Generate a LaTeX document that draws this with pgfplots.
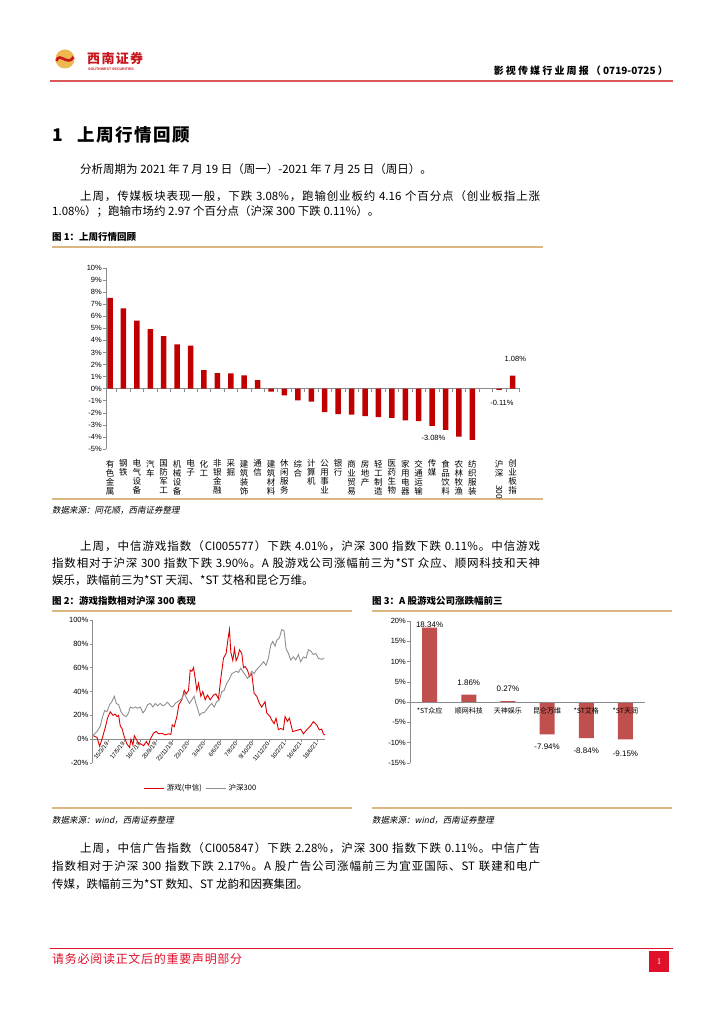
\documentclass[border=0pt]{standalone}
\usepackage{pgfplots}
\pgfplotsset{compat=1.18}
\usepackage{fontspec}
\setmainfont{Noto Sans CJK SC}
\newfontfamily\lat{Liberation Sans}
\newfontfamily\serif{Liberation Serif}
\newfontfamily\cjkit{Noto Sans CJK SC}[FakeSlant=0.2]

% stretchable glue around CJK characters, so that full lines can be justified
\XeTeXinterchartokenstate=1
\newXeTeXintercharclass\cjkcls
\newcount\cc
\cc="4E00 \loop \XeTeXcharclass\cc=\cjkcls \advance\cc by 1 \ifnum\cc<"A000 \repeat
\cc="3000 \loop \XeTeXcharclass\cc=\cjkcls \advance\cc by 1 \ifnum\cc<"3040 \repeat
\cc="FF00 \loop \XeTeXcharclass\cc=\cjkcls \advance\cc by 1 \ifnum\cc<"FFF0 \repeat
\XeTeXinterchartoks\cjkcls\cjkcls={\hskip0pt plus 1pt\relax}
\XeTeXinterchartoks\cjkcls 0={\hskip0pt plus 1pt\relax}
\XeTeXinterchartoks 0\cjkcls={\hskip0pt plus 1pt\relax}

\definecolor{barred}{HTML}{C00000}
\definecolor{barthree}{HTML}{C0504D}
\definecolor{tanline}{HTML}{D9B77E}
\definecolor{hdrred}{HTML}{D9595B}
\definecolor{ftred}{HTML}{E0102A}
\definecolor{logored}{HTML}{C8161D}
\definecolor{logogold}{HTML}{EDB850}
\definecolor{gameline}{HTML}{DD0000}
\definecolor{hsline}{HTML}{8F8F8F}
\definecolor{axgray}{HTML}{8C8C8C}

\newcommand\fs[1]{\fontsize{#1}{#1}\selectfont}
% full (justified) body line
\newcommand\fline[3]{\node[anchor=west,inner sep=0,font=\fs{11.5}] at (#1) {\makebox[#2pt][s]{#3}};}
% last line of a paragraph
\newcommand\lline[2]{\node[anchor=west,inner sep=0,font=\fs{11.5}] at (#1) {#2};}

\begin{document}
\begin{tikzpicture}[x=1pt,y=1pt]
\fill[white] (0,0) rectangle (724,-1024);

% ---- header
\fill[logogold] (65,-59) circle (9.5);
\draw[logored, line width=2.6pt] (56.5,-61) .. controls (59,-51) and (68,-67) .. (73.5,-57);
\node[anchor=west,inner sep=0,text=logored,font=\bfseries\fs{13}] at (87,-58) {\makebox[56pt][s]{西南证券}};
\node[anchor=west,inner sep=0,text=logored,font=\lat\bfseries\fs{3.6}] at (88,-69.5) {SOUTHWEST SECURITIES};
\node[anchor=east,inner sep=0,font=\bfseries\fs{10}] at (668,-70.5) {\makebox[174pt][s]{影视传媒行业周报（0719-0725）}};
\draw[hdrred, line width=1.6pt] (50,-81) -- (673,-81);

% ---- section 1 text
\node[anchor=west,inner sep=0,font=\bfseries\fs{17.5}] at (52,-135) {\makebox[138pt][s]{1\ \ 上周行情回顾}};
\lline{80,-169}{分析周期为 2021 年 7 月 19 日（周一）-2021 年 7 月 25 日（周日）。}
\fline{80,-196}{460}{上周，传媒板块表现一般，下跌 3.08\%，跑输创业板约 4.16 个百分点（创业板指上涨}
\lline{52,-212}{1.08\%）；跑输市场约 2.97 个百分点（沪深 300 下跌 0.11\%）。}

% ---- figure 1
\node[anchor=west,inner sep=0,font=\bfseries\fs{9.5}] at (52,-237) {图 1：上周行情回顾};
\draw[tanline, line width=1.5pt] (52,-247) -- (543,-247);
\draw[tanline, line width=1.5pt] (52,-499) -- (543,-499);
\node[anchor=west,inner sep=0,font=\cjkit\fs{8.5}] at (52,-510) {数据来源：同花顺，西南证券整理};

\begin{axis}[at={(106pt,-268pt)}, anchor=north west, scale only axis,
  width=414pt, height=181pt,
  xmin=-0.3, xmax=30.55, ymin=-5, ymax=10,
  axis y line*=left, axis x line*=middle,
  axis line style={axgray, line width=0.6pt},
  ytick={-5,...,10}, minor ytick={-5,...,10},
  yticklabel={\pgfmathprintnumber{\tick}\%},
  /pgf/number format/assume math mode=true,
  xtick={0,...,27,29,30},
  minor xtick={0.5,1.5,...,30.5},
  xticklabels={{有\\色\\金\\属},{钢\\铁},{电\\气\\设\\备},{汽\\车},{国\\防\\军\\工},{机\\械\\设\\备},{电\\子},{化\\工},{非\\银\\金\\融},{采\\掘},{建\\筑\\装\\饰},{通\\信},{建\\筑\\材\\料},{休\\闲\\服\\务},{综\\合},{计\\算\\机},{公\\用\\事\\业},{银\\行},{商\\业\\贸\\易},{房\\地\\产},{轻\\工\\制\\造},{医\\药\\生\\物},{家\\用\\电\\器},{交\\通\\运\\输},{传\\媒},{食\\品\\饮\\料},{农\\林\\牧\\渔},{纺\\织\\服\\装},{沪\\深\\\rotatebox{-90}{300}},{创\\业\\板\\指}},
  tick align=outside, major tick length=0pt, minor tick length=3pt,
  tick style={axgray, line width=0.6pt},
  xticklabel style={font=\fontsize{8.5}{9}\selectfont, align=center, anchor=north, inner sep=0pt, yshift=-71pt},
  yticklabel style={font=\lat\fs{7.5}, inner sep=1pt, xshift=-3pt},
  clip=false]
\addplot[ybar, bar width=5.5pt, fill=barred, draw=none] coordinates {
  (0,7.53) (1,6.66) (2,5.64) (3,4.93) (4,4.36) (5,3.67) (6,3.56) (7,1.53)
  (8,1.29) (9,1.26) (10,1.10) (11,0.71) (12,-0.25) (13,-0.55) (14,-0.96)
  (15,-1.07) (16,-1.95) (17,-2.11) (18,-2.16) (19,-2.27) (20,-2.36)
  (21,-2.41) (22,-2.63) (23,-2.68) (24,-3.08) (25,-3.42) (26,-3.97)
  (27,-4.25) (29,-0.11) (30,1.08)};
\node[font=\lat\fs{7.5}] at (axis cs:30.2,2.49) {1.08\%};
\node[font=\lat\fs{7.5}] at (axis cs:29.2,-1.16) {-0.11\%};
\node[font=\lat\fs{7.5}] at (axis cs:24.1,-4.06) {-3.08\%};
\end{axis}

% ---- section text 2
\fline{80,-546}{460}{上周，中信游戏指数（CI005577）下跌 4.01\%，沪深 300 指数下跌 0.11\%。中信游戏}
\fline{52,-563}{488}{指数相对于沪深 300 指数下跌 3.90\%。A 股游戏公司涨幅前三为*ST 众应、顺网科技和天神}
\lline{52,-580}{娱乐，跌幅前三为*ST 天润、*ST 艾格和昆仑万维。}

% ---- figure 2
\node[anchor=west,inner sep=0,font=\bfseries\fs{9.5}] at (52,-601) {图 2：游戏指数相对沪深 300 表现};
\draw[tanline, line width=1.5pt] (52,-611) -- (352,-611);
\draw[tanline, line width=1.5pt] (52,-808) -- (352,-808);
\node[anchor=west,inner sep=0,font=\cjkit\fs{8.5}] at (52,-820) {数据来源：wind，西南证券整理};

\begin{axis}[at={(92pt,-620pt)}, anchor=north west, scale only axis,
  width=233pt, height=143pt,
  xmin=125, xmax=825, ymin=-20, ymax=100,
  axis y line*=left, axis x line*=middle,
  axis line style={axgray, line width=0.6pt},
  ytick={-20,0,20,40,60,80,100},
  yticklabel={\pgfmathprintnumber{\tick}\%},
  /pgf/number format/assume math mode=true,
  xtick={125,173.3,221.6,269.9,318.2,366.5,414.8,463.1,511.4,559.7,608,656.3,704.6,752.9,801.2},
  xticklabels={2/1/19,15/3/19,17/5/19,16/7/19,20/9/19,22/11/19,23/1/20,3/4/20,6/6/20,7/8/20,9/10/20,11/12/20,10/2/21,16/4/21,18/6/21},
  tick align=outside, major tick length=2.5pt,
  tick style={axgray, line width=0.6pt},
  xticklabel style={font=\lat\fs{6}, rotate=52, anchor=east, inner sep=1pt},
  yticklabel style={font=\lat\fs{7.5}, inner sep=1pt},
  legend style={at={(axis description cs:0.468,-0.175)}, anchor=center, draw=none, fill=none,
    legend columns=2, font=\fs{7.5}, inner sep=0pt,
    /tikz/every even column/.append style={column sep=2pt}},
  legend image code/.code={\draw[#1] (0pt,0pt) -- (20pt,0pt);},
  clip=false]
\addplot[gameline, line width=0.9pt] coordinates {
  (128,3) (140,1.5) (148,-6) (155,0) (165,10) (172,18) (180,23) (188,20)
  (195,21) (200,19) (205,20) (210,11) (215,9) (222,2) (230,-4) (238,-7)
  (242,0) (248,-5) (252,3) (258,0) (265,-4) (272,-4) (280,-5.5) (288,-2)
  (295,-5) (300,0) (310,5) (318,6.5) (325,4.5) (335,5) (345,3.6) (355,4.5)
  (362,4) (366,12) (372,10.5) (380,19) (386,29) (395,33) (402,41) (408,38)
  (415,41) (420,58) (425,57) (430,60) (435,51) (440,41) (445,47) (452,36)
  (458,40) (465,33) (472,37) (480,33) (490,37) (497,38) (505,34) (512,51)
  (520,68) (528,72) (533,83) (538,92) (542,73) (548,66) (553,76) (558,66)
  (563,69) (568,75) (575,72) (580,60) (585,61) (592,58) (598,52.5) (605,55)
  (612,38.5) (620,36) (628,30) (635,27) (645,31.5) (650,22) (660,19) (665,16)
  (672,13) (678,17.6) (685,8) (692,9) (700,8) (705,19) (712,15) (718,17.6)
  (722,13) (728,6.4) (740,7.3) (752,8.4) (760,4.5) (770,7.8) (780,10.6)
  (790,14.8) (800,12) (808,7.8) (815,8.4) (820,4.5) (825,3.6)};
\addlegendentry{游戏(中信)}
\addplot[hsline, line width=0.9pt] coordinates {
  (128,3) (140,6.4) (150,11) (158,20) (163,24) (170,23) (178,29) (185,31.6)
  (192,36) (198,30) (205,29) (212,23) (220,20) (228,19) (235,22) (240,27)
  (248,26) (255,27) (262,26) (270,27) (278,22) (285,24.6) (292,29) (300,30)
  (308,27) (315,30) (322,28) (330,30) (338,28) (345,29) (352,31) (360,28)
  (367,27) (375,30) (385,32) (395,34) (402,38.5) (410,34) (418,30) (425,33)
  (432,36) (437,30) (442,26) (448,20) (455,22) (462,22.3) (470,25) (478,28)
  (485,30) (492,27) (500,31.6) (508,33) (515,40) (522,41) (530,47) (537,50)
  (545,55) (552,56) (558,57) (565,56) (572,59.5) (578,57) (585,54) (592,51)
  (598,53) (605,57) (612,55) (618,58) (625,60) (632,62) (640,65) (648,62)
  (655,68) (662,79) (668,82) (675,78) (680,83) (688,85) (695,92) (702,91)
  (708,76) (715,72) (722,66.5) (730,69) (737,66.5) (745,71) (752,65) (760,69)
  (768,68) (775,75) (782,74) (790,71) (797,72) (805,68) (815,67) (822,68)};
\addlegendentry{沪深300}
\end{axis}

% ---- figure 3
\node[anchor=west,inner sep=0,font=\bfseries\fs{9.5}] at (372,-601) {图 3：A 股游戏公司涨跌幅前三};
\draw[tanline, line width=1.5pt] (372,-611) -- (672,-611);
\draw[tanline, line width=1.5pt] (372,-808) -- (672,-808);
\node[anchor=west,inner sep=0,font=\cjkit\fs{8.5}] at (372,-820) {数据来源：wind，西南证券整理};

\begin{axis}[at={(410pt,-621pt)}, anchor=north west, scale only axis,
  width=235pt, height=142pt,
  xmin=-0.5, xmax=5.5, ymin=-15, ymax=20,
  axis y line*=left, axis x line*=middle, axis on top,
  axis line style={axgray, line width=0.6pt},
  ytick={-15,-10,...,20}, minor ytick={-15,-10,...,20},
  yticklabel={\pgfmathprintnumber{\tick}\%},
  /pgf/number format/assume math mode=true,
  xtick={0,...,5},
  xticklabels={*ST众应,顺网科技,天神娱乐,昆仑万维,*ST艾格,*ST天润},
  tick align=outside, major tick length=0pt, minor tick length=3pt,
  tick style={axgray, line width=0.6pt},
  xticklabel style={font=\fs{7}, inner sep=1pt, yshift=-4pt},
  yticklabel style={font=\lat\fs{7.5}, inner sep=1pt, xshift=-3pt},
  clip=false]
\addplot[ybar, bar width=15pt, fill=barthree, draw=none] coordinates {
  (0,18.34) (1,1.86) (2,0.27) (3,-7.94) (4,-8.84) (5,-9.15)};
\node[font=\lat\fs{8}] at (axis cs:0,19.1) {18.34\%};
\node[font=\lat\fs{8}] at (axis cs:1,4.7) {1.86\%};
\node[font=\lat\fs{8}] at (axis cs:2,3.2) {0.27\%};
\node[font=\lat\fs{8}] at (axis cs:3,-11.1) {-7.94\%};
\node[font=\lat\fs{8}] at (axis cs:4,-12.1) {-8.84\%};
\node[font=\lat\fs{8}] at (axis cs:5,-12.6) {-9.15\%};
\end{axis}

% ---- section text 3
\fline{80,-848}{460}{上周，中信广告指数（CI005847）下跌 2.28\%，沪深 300 指数下跌 0.11\%。中信广告}
\fline{52,-866}{488}{指数相对于沪深 300 指数下跌 2.17\%。A 股广告公司涨幅前三为宜亚国际、ST 联建和电广}
\lline{52,-884}{传媒，跌幅前三为*ST 数知、ST 龙韵和因赛集团。}

% ---- footer
\draw[ftred, line width=1pt] (50,-948) -- (673,-948);
\node[anchor=west,inner sep=0,text=ftred,font=\fs{12}] at (52,-959) {\makebox[190pt][s]{请务必阅读正文后的重要声明部分}};
\fill[ftred] (649,-951) rectangle (669,-972);
\node[text=white,font=\serif\fs{9}] at (659,-961.5) {1};

\pgfresetboundingbox
\useasboundingbox (0,0) rectangle (724,-1024);
\end{tikzpicture}
\end{document}
